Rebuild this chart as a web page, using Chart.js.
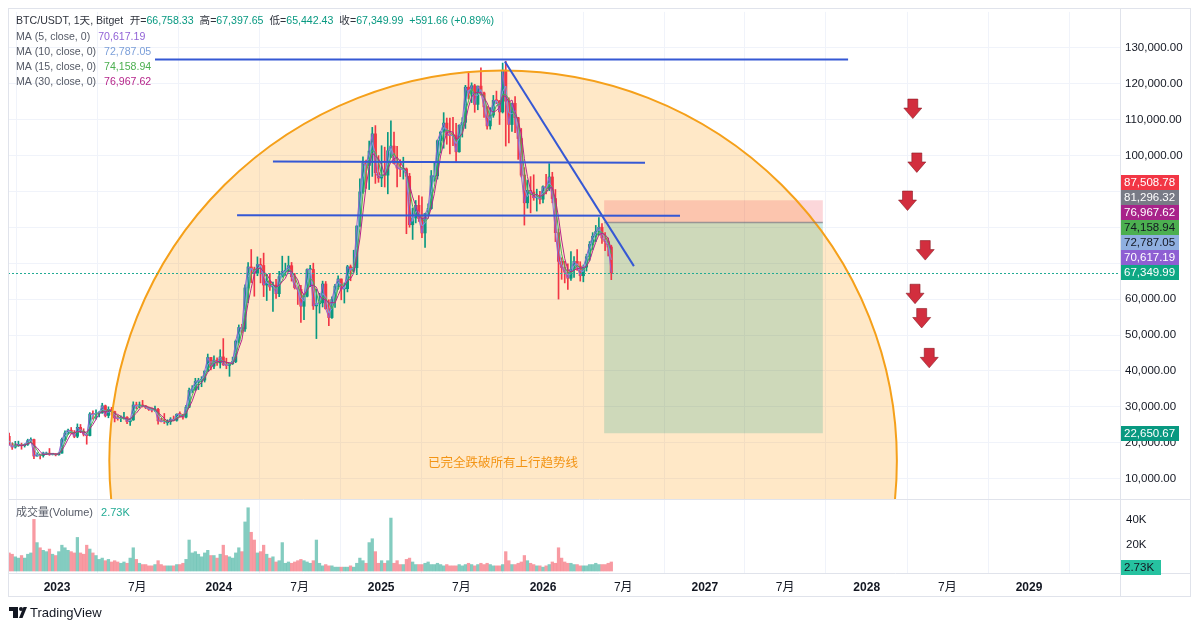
<!DOCTYPE html>
<html><head><meta charset="utf-8">
<script src="https://cdn.jsdelivr.net/npm/chart.js@4.4.1/dist/chart.umd.min.js"></script>
<style>html,body{margin:0;padding:0;background:#fff;}#wrap{position:relative;width:1200px;height:629px;}</style>
</head><body><div id="wrap"><canvas id="c" width="1200" height="629"></canvas></div>
<script>
// ---------- DATA ----------
// weekly candles, first week starts 2022-09-05 (day -118 counted from 2023-01-01)
const firstWeekDay = -118;
const weekStep = 7;
const ohlc = [
// 2022
[19800,21800,18550,21800],[21800,22700,19400,19400],[19400,19950,18150,18800],[18800,20400,18500,19300],
[19300,20450,19000,19400],[19400,19900,18200,19200],[19200,19700,18800,19550],[19550,21000,19250,20600],
[20600,21400,20050,20900],[20900,21000,15600,16300],[16300,17200,16300,16700],[16700,16850,15500,16450],
[16450,17400,16000,17100],[17100,17400,16700,17100],[17100,18400,16500,16800],[16800,16950,16600,16850],
[16850,16950,16350,16650],
// 2023
[16650,17200,16550,17100],[17100,21300,17100,20900],[20900,23300,20500,22700],[22700,23800,22300,23500],
[23500,24250,22500,22900],[22900,23400,21400,21800],[21800,25250,21400,24300],[24300,25100,22800,23200],
[23200,23900,21900,22400],[22400,22600,19600,22000],[22000,28400,21900,28000],[28000,28900,26600,27900],
[27900,29200,26600,28200],[28200,28700,27200,28300],[28300,31000,28200,30300],[30300,30500,27200,27600],
[27600,30000,26950,29250],[29250,29850,27700,28700],[28700,28800,25800,26900],[26900,27600,26300,26750],
[26750,27500,25900,26850],[26850,28450,26600,27100],[27100,27300,25350,25850],[25850,26800,24800,26350],
[26350,31400,26250,30500],[30500,31300,29500,30250],[30250,31350,29700,30300],[30300,31800,29950,30250],
[30250,30400,29500,29850],[29850,29900,29000,29300],[29300,29750,28600,29100],[29100,30200,28700,29300],
[29300,29600,25200,26100],[26100,26800,25800,26000],[26000,28150,25350,25850],[25850,26400,24900,25850],
[25850,27000,25100,26550],[26550,27450,26100,26250],[26250,28050,26000,27950],[27950,28600,27200,27900],
[27900,27950,26550,27150],[27150,30400,26950,29900],[29900,35200,29800,34550],[34550,35900,34000,35000],
[35000,37950,34550,37050],[37050,37950,34800,37350],[37350,38400,35600,37450],[37450,40000,36900,39950],
[39950,44700,39900,43750],[43750,43800,40250,41350],[41350,44200,40600,43000],[43000,43650,41500,42250],
// 2024
[42250,45900,40800,43900],[43900,49000,41500,41750],[41750,43550,40600,41550],[41550,42200,38500,42050],
[42050,43850,41800,42600],[42600,48600,42300,48300],[48300,52800,47700,52100],[52100,52950,50550,51700],
[51700,64000,51000,63100],[63100,70150,59000,68950],[68950,73800,64600,68350],[68350,68900,60800,67200],
[67200,71750,66500,69600],[69600,71300,64500,69350],[69350,72800,60700,63900],[63900,66900,59600,64950],
[64950,67200,62400,63400],[63400,64700,56550,63900],[63900,65500,60200,61500],[61500,67700,60700,66250],
[66250,71950,66100,67700],[67700,70000,66600,67750],[67750,71950,67600,69300],[69300,70200,65000,66200],
[66200,67150,62800,63200],[63200,63400,58500,62700],[62700,63800,53500,58000],[58000,61400,54300,60800],
[60800,68400,60600,68200],[68200,69400,63450,68250],[68250,70000,57100,58100],[58100,62700,49000,58700],
[58700,61600,56100,58950],[58950,65000,57800,64200],[64200,64900,57200,57300],[57300,59800,52600,54850],
[54850,60600,54650,59900],[59900,64100,57650,63600],[63600,66500,62700,65600],[65600,65600,59800,62850],
[62850,64500,58900,62900],[62900,69400,62000,69000],[69000,69500,65100,68000],[68000,73600,67500,68750],
[68750,80400,66800,80350],[80350,93450,80250,89850],[89850,99600,89400,97900],[97900,98700,90800,97200],
[97200,104000,90500,101200],[101200,107800,94150,106000],[106000,108300,92200,95200],[95200,99950,92500,93700],
[93700,102700,91300,94600],
// 2025
[94600,102300,91200,94500],[94500,106400,89300,101300],[101300,109600,99400,102600],[102600,106500,97600,97700],
[97700,102500,91200,96500],[96500,98800,94100,96150],[96150,99500,93400,96250],[96250,96500,78200,94200],
[94200,95000,80000,80700],[80700,85300,76600,82600],[82600,87450,81200,86100],[86100,88800,81600,82400],
[82400,88500,77100,78400],[78400,83900,74400,83800],[83800,86500,83100,85200],[85200,95800,85000,94300],
[94300,97900,92800,94300],[94300,104300,93400,104100],[104100,106600,100700,106500],[106500,111900,102000,109000],
[109000,110400,103100,105700],[105700,110400,100400,105600],[105600,110600,102700,105500],[105500,108900,98200,101000],
[101000,108500,100900,108400],[108400,110500,105100,109200],[109200,119500,107500,119000],[119000,123200,115700,117300],
[117300,120200,114700,119400],[119400,119800,112000,114200],[114200,119300,112700,119300],[119300,124400,116800,117400],
[117400,117600,110600,113500],[113500,113600,107300,108200],[108200,113300,107300,111200],[111200,116700,110600,115300],
[115300,117900,114400,115200],[115200,115300,108600,112100],[112100,125700,111800,123500],[123500,126200,102600,115100],
[115100,116000,103500,108600],[108600,114600,106700,114500],[114500,116400,106300,110500],[110500,110600,98900,104700],
[104700,107500,94000,94500],[94500,96600,80600,86800],[86800,93100,85300,90300],[90300,94100,84000,89800],
[89800,94600,87500,88200],[88200,90600,84500,88500],[88500,90000,86500,87800],[87800,91500,86800,91300],
// 2026
[91300,94700,89300,90800],[90800,97700,90200,94000],[94000,95300,86800,88000],[88000,90500,76000,78500],
[78500,79500,60000,70500],[70500,71500,65500,68800],[68800,70500,64500,67500],[67500,69800,62700,65800],
[65800,73200,65200,68300],[68300,71800,66000,70500],[70500,73800,68000,69200],[69200,70400,65000,66500],
[66500,69500,64800,68900],[68900,72500,67800,71800],[71800,76000,70800,75200],[75200,78500,73800,77500],
[77500,80500,76000,78800],[78800,82700,77800,80000],[80000,81000,75500,77000],[77000,78500,73500,76000],
[76000,77000,72000,74500],[74500,75000,65400,67350]
];
// volume in thousands, one value per weekly candle
const volumeK = [
12,14,13,11,10,12,10,13,14,40,22,18,16,15,17,13,12,
15,20,18,16,15,14,26,14,13,20,17,14,12,9,10,8,9,7,8,7,6,7,6,10,18,9,6,5,5,4,4,5,8,5,4,4,4,4,5,5,6,9,24,14,15,13,11,14,16,12,12,10,
13,20,12,11,10,14,18,15,38,49,30,24,14,15,20,13,10,11,7,8,22,6,7,6,7,8,9,8,7,6,8,24,6,4,5,4,4,3,3,3,3,3,4,3,6,10,8,6,22,25,15,6,8,
6,8,41,6,8,5,5,9,10,7,5,5,5,6,7,5,5,6,5,4,5,4,4,4,5,4,5,6,5,4,5,6,5,6,5,4,4,4,5,15,8,5,5,6,7,12,8,6,5,4,4,3,
4,5,7,6,18,10,7,6,6,5,5,4,4,4,5,5,6,5,5,5,6,7
];
const priceTicks = [10000,20000,30000,40000,50000,60000,70000,80000,90000,100000,110000,120000,130000];
const volTicksK = [20, 40];
const timeTickDays = [0,181,365,547,731,912,1096,1277,1461,1642,1826,2008,2192];
const timeTickLabels = ['2023','7月','2024','7月','2025','7月','2026','7月','2027','7月','2028','7月','2029'];
const maNames = ['MA (5, close, 0)','MA (10, close, 0)','MA (15, close, 0)','MA (30, close, 0)'];
const maValues = [70617.19, 72787.05, 74158.94, 76967.62];
const maWindows = [1, 2, 3, 4]; // in weekly candles
const titleText = 'BTC/USDT, 1天, Bitget';
const ohlcNames = ['开','高','低','收'];
const lastOHLC = [66758.33, 67397.65, 65442.43, 67349.99];
const lastChange = '+591.66 (+0.89%)';
const lastVolumeK = 2.73;
const positionLevels = [87508.78, 81296.32, 22650.67]; // stop, entry, target
const positionDays = [1234, 1727];
const trendLines = [[221,126680,1784,126680],[487,98300,1326,97950],[406,83350,1405,83200],[1010,126150,1301,69180]];
const arrowPoints = [[1930,112900],[1939,97900],[1918,87300],[1958,73500],[1935,61350],[1950,54600],[1967,43500]];
const arcShape = {cx:1006, cy:14980, rx:888, ry:108660};
const noteText = '已完全跌破所有上行趋势线';
const notePoint = [1006, 14700];

// ---------- VIEW ----------
const FONT = '"Liberation Sans","Noto Sans CJK SC",Arial,sans-serif';
const X_MIN = -110.5, X_MAX = 2397.2;
const Y_MIN = -16257, Y_MAX = 139950;
const V_MIN = -1.54, V_MAX = 433.1;
const PANE_SPLIT = 499;
const UP = '#089981', DOWN = '#f23645';
const maColors = ['#9162d6','#7b9fd9','#4caf50','#b5258a'];

const dayOf = i => firstWeekDay + weekStep*i + 3;
const isUp = ohlc.map(r => r[3] >= r[0]);
const closes = ohlc.map(r => r[3]);
function sma(w){ return closes.map((c,i)=>{ if(i<w-1) return null; let s=0; for(let k=i-w+1;k<=i;k++) s+=closes[k]; return s/w; }); }
const fmt = v => v.toLocaleString('en-US',{minimumFractionDigits:2,maximumFractionDigits:2});

const datasets = [];
datasets.push({type:'bar', label:'vol', yAxisID:'vol', order:9, grouped:false, barThickness:2.6,
  data: volumeK.map((v,i)=>({x:dayOf(i), y:v})),
  backgroundColor: c => isUp[c.dataIndex] ? 'rgba(8,153,129,0.5)' : 'rgba(242,54,69,0.5)'});
datasets.push({type:'bar', label:'wick', yAxisID:'y', order:8, grouped:false, barThickness:1,
  data: ohlc.map((r,i)=>({x:dayOf(i), y:[r[2], r[1]]})),
  backgroundColor: c => isUp[c.dataIndex] ? UP : DOWN});
datasets.push({type:'bar', label:'body', yAxisID:'y', order:7, grouped:false, barThickness:2.4, minBarLength:1,
  data: ohlc.map((r,i)=>({x:dayOf(i), y:[r[0], r[3]]})),
  backgroundColor: c => isUp[c.dataIndex] ? UP : DOWN});
maWindows.forEach((w,k)=>{
  const s = sma(w);
  datasets.push({type:'line', label:maNames[k], yAxisID:'y', order:6-k, borderColor:maColors[k], borderWidth:1,
    pointRadius:0, tension:0, spanGaps:true,
    data: s.map((v,i)=>({x:dayOf(i), y:v})).filter(p=>p.y!==null)});
});

function arrowAt(ctx, px, py){
  ctx.beginPath();
  ctx.moveTo(px-5, py-10); ctx.lineTo(px+5, py-10); ctx.lineTo(px+5, py-1);
  ctx.lineTo(px+9, py-1); ctx.lineTo(px, py+9.5); ctx.lineTo(px-9, py-1); ctx.lineTo(px-5, py-1); ctx.closePath();
  ctx.fillStyle = '#d22e3e'; ctx.fill();
  ctx.strokeStyle = 'rgba(130,20,30,0.55)'; ctx.lineWidth = 1; ctx.stroke();
}

const overlay = {
  id:'overlay',
  beforeDatasetsDraw(chart){
    const {ctx, chartArea:ca, scales:{x,y}} = chart;
    ctx.save();
    ctx.beginPath(); ctx.rect(ca.left, ca.top, ca.right-ca.left, PANE_SPLIT-ca.top); ctx.clip();
    const cx = x.getPixelForValue(arcShape.cx), cy = y.getPixelForValue(arcShape.cy);
    const rx = x.getPixelForValue(arcShape.cx+arcShape.rx)-cx, ry = cy - y.getPixelForValue(arcShape.cy+arcShape.ry);
    ctx.beginPath(); ctx.ellipse(cx, cy, rx, ry, 0, 0, Math.PI*2);
    ctx.fillStyle = 'rgba(255,152,0,0.22)'; ctx.fill();
    const x0 = x.getPixelForValue(positionDays[0]), x1 = x.getPixelForValue(positionDays[1]);
    const ys = y.getPixelForValue(positionLevels[0]), ye = y.getPixelForValue(positionLevels[1]), yt = y.getPixelForValue(positionLevels[2]);
    ctx.fillStyle = 'rgba(242,54,69,0.2)'; ctx.fillRect(x0, ys, x1-x0, ye-ys);
    ctx.fillStyle = 'rgba(8,153,129,0.2)'; ctx.fillRect(x0, ye, x1-x0, yt-ye);
    ctx.restore();
  },
  afterDatasetsDraw(chart){
    const {ctx, chartArea:ca, scales:{x,y}} = chart;
    ctx.save();
    ctx.beginPath(); ctx.rect(ca.left, ca.top, ca.right-ca.left, PANE_SPLIT-ca.top); ctx.clip();
    const cx = x.getPixelForValue(arcShape.cx), cy = y.getPixelForValue(arcShape.cy);
    const rx = x.getPixelForValue(arcShape.cx+arcShape.rx)-cx, ry = cy - y.getPixelForValue(arcShape.cy+arcShape.ry);
    ctx.beginPath(); ctx.ellipse(cx, cy, rx, ry, 0, 0, Math.PI*2);
    ctx.strokeStyle = '#f5a01a'; ctx.lineWidth = 2; ctx.stroke();
    const x0 = x.getPixelForValue(positionDays[0]), x1 = x.getPixelForValue(positionDays[1]);
    const ye = y.getPixelForValue(positionLevels[1]);
    ctx.beginPath(); ctx.moveTo(x0, ye); ctx.lineTo(x1, ye);
    ctx.strokeStyle = 'rgba(120,123,134,0.7)'; ctx.lineWidth = 1.5; ctx.stroke();
    ctx.strokeStyle = '#3558d4'; ctx.lineWidth = 2;
    trendLines.forEach(t=>{
      ctx.beginPath(); ctx.moveTo(x.getPixelForValue(t[0]), y.getPixelForValue(t[1]));
      ctx.lineTo(x.getPixelForValue(t[2]), y.getPixelForValue(t[3])); ctx.stroke();
    });
    arrowPoints.forEach(p=>arrowAt(ctx, x.getPixelForValue(p[0]), y.getPixelForValue(p[1])));
    ctx.fillStyle = '#f39414'; ctx.font = '12.5px "Noto Sans CJK SC",sans-serif';
    ctx.textAlign='center'; ctx.textBaseline='middle';
    ctx.fillText(noteText, x.getPixelForValue(notePoint[0]), y.getPixelForValue(notePoint[1]));
    ctx.restore();
    ctx.save();
    const yl = Math.round(y.getPixelForValue(lastOHLC[3]))+0.5;
    ctx.setLineDash([2,2]); ctx.strokeStyle = '#22ab94'; ctx.lineWidth=1;
    ctx.beginPath(); ctx.moveTo(ca.left, yl); ctx.lineTo(ca.right, yl); ctx.stroke();
    ctx.restore();
  },
  afterDraw(chart){
    const {ctx, chartArea:ca, scales:{x,y,vol}} = chart;
    ctx.save();
    ctx.strokeStyle = '#e0e3eb'; ctx.lineWidth = 1;
    ctx.strokeRect(8.5, 8.5, 1182, 588);
    ctx.beginPath();
    ctx.moveTo(ca.right+0.5, 8); ctx.lineTo(ca.right+0.5, 597);
    ctx.moveTo(8, PANE_SPLIT+0.5); ctx.lineTo(1191, PANE_SPLIT+0.5);
    ctx.moveTo(8, ca.bottom+0.5); ctx.lineTo(1191, ca.bottom+0.5);
    ctx.stroke();
    ctx.font = '11.5px '+FONT; ctx.fillStyle = '#131722'; ctx.textAlign='left'; ctx.textBaseline='middle';
    volTicksK.forEach(v=>ctx.fillText(v+'K', ca.right+6, vol.getPixelForValue(v)));
    const labels = [
      {v:positionLevels[0], bg:'#f23645', fg:'#ffffff'},
      {v:positionLevels[1], bg:'#787b86', fg:'#ffffff'},
      {v:maValues[3], bg:'#a8238a', fg:'#ffffff'},
      {v:maValues[2], bg:'#4caf50', fg:'#131722'},
      {v:maValues[1], bg:'#8fafe0', fg:'#131722'},
      {v:maValues[0], bg:'#8e5fd3', fg:'#ffffff'},
      {v:lastOHLC[3], bg:'#0ea884', fg:'#ffffff'}
    ].sort((a,b)=>a.v-b.v);
    let prev = Infinity;
    const box = (yy, text, bg, fg, w) => {
      ctx.fillStyle = bg; ctx.fillRect(ca.right+1, Math.round(yy-7.5), w, 15);
      ctx.fillStyle = fg; ctx.fillText(text, ca.right+4, yy+0.5);
    };
    labels.forEach(l=>{
      let yy = y.getPixelForValue(l.v);
      yy = Math.min(yy, prev-15); prev = yy;
      box(yy, fmt(l.v), l.bg, l.fg, 58);
    });
    box(y.getPixelForValue(positionLevels[2]), fmt(positionLevels[2]), '#089981', '#ffffff', 58);
    box(vol.getPixelForValue(lastVolumeK), lastVolumeK.toFixed(2)+'K', '#26c2a0', '#131722', 40);
    // header
    ctx.textBaseline='middle'; ctx.textAlign='left';
    ctx.font = '10.6px '+FONT;
    let cx = 16;
    const put = (t, col, gap) => { ctx.fillStyle = col; ctx.fillText(t, cx, 21.5); cx += ctx.measureText(t).width + (gap||0); };
    put(titleText, '#2f333d', 6.5);
    ohlcNames.forEach((n,i)=>{ put(n+'=', '#2f333d', 0); put(fmt(lastOHLC[i]), '#089981', 6); });
    put(lastChange, '#089981', 0);
    maNames.forEach((n,k)=>{
      const yy = 36.7 + 15*k;
      ctx.fillStyle = '#555a66'; ctx.fillText(n, 16, yy);
      const w = ctx.measureText(n).width;
      ctx.fillStyle = maColors[k]; ctx.fillText(fmt(maValues[k]), 16+w+8, yy);
    });
    ctx.font = '11px '+FONT;
    ctx.fillStyle = '#555a66'; ctx.fillText('成交量(Volume)', 16, 513);
    const vw = ctx.measureText('成交量(Volume)').width;
    ctx.fillStyle = '#22ab94'; ctx.fillText(lastVolumeK.toFixed(2)+'K', 16+vw+8, 513);
    // TradingView logo
    ctx.fillStyle = '#131722';
    ctx.fillRect(9, 607, 9, 4); ctx.fillRect(13, 607, 5, 11);
    ctx.beginPath(); ctx.arc(21, 609, 2, 0, Math.PI*2); ctx.fill();
    ctx.beginPath(); ctx.moveTo(23.5,607); ctx.lineTo(27,607); ctx.lineTo(22.5,618); ctx.lineTo(19,618); ctx.closePath(); ctx.fill();
    ctx.font = '13px '+FONT; ctx.fillText('TradingView', 30, 613);
    ctx.restore();
  }
};

new Chart(document.getElementById('c').getContext('2d'), {
  type:'bar',
  data:{datasets},
  options:{
    responsive:false, animation:false, events:[],
    layout:{padding:{left:8, top:8, right:9, bottom:32}},
    plugins:{legend:{display:false}, tooltip:{enabled:false}},
    scales:{
      x:{type:'linear', min:X_MIN, max:X_MAX, offset:false,
        afterBuildTicks:s=>{ s.ticks = timeTickDays.map(v=>({value:v})); },
        afterFit:s=>{ s.height = 24; },
        grid:{color:'#f0f3fa', drawTicks:false}, border:{display:false},
        ticks:{autoSkip:false, maxRotation:0, padding:7, color:'#131722',
          font:c=>({family:FONT, size:12, weight:(timeTickLabels[c.index]||'').indexOf('月')>=0?'normal':'bold'}),
          callback:(v,i)=>timeTickLabels[i]}},
      y:{position:'right', min:Y_MIN, max:Y_MAX,
        afterBuildTicks:s=>{ s.ticks = priceTicks.map(v=>({value:v})); },
        afterFit:s=>{ s.width = 71; },
        grid:{color:'#f0f3fa', drawTicks:false}, border:{display:false},
        ticks:{padding:5, color:'#131722', font:{family:FONT, size:11.5}, callback:v=>fmt(v)}},
      vol:{axis:'y', position:'right', display:false, min:V_MIN, max:V_MAX}
    }
  },
  plugins:[overlay]
});
</script></body></html>
